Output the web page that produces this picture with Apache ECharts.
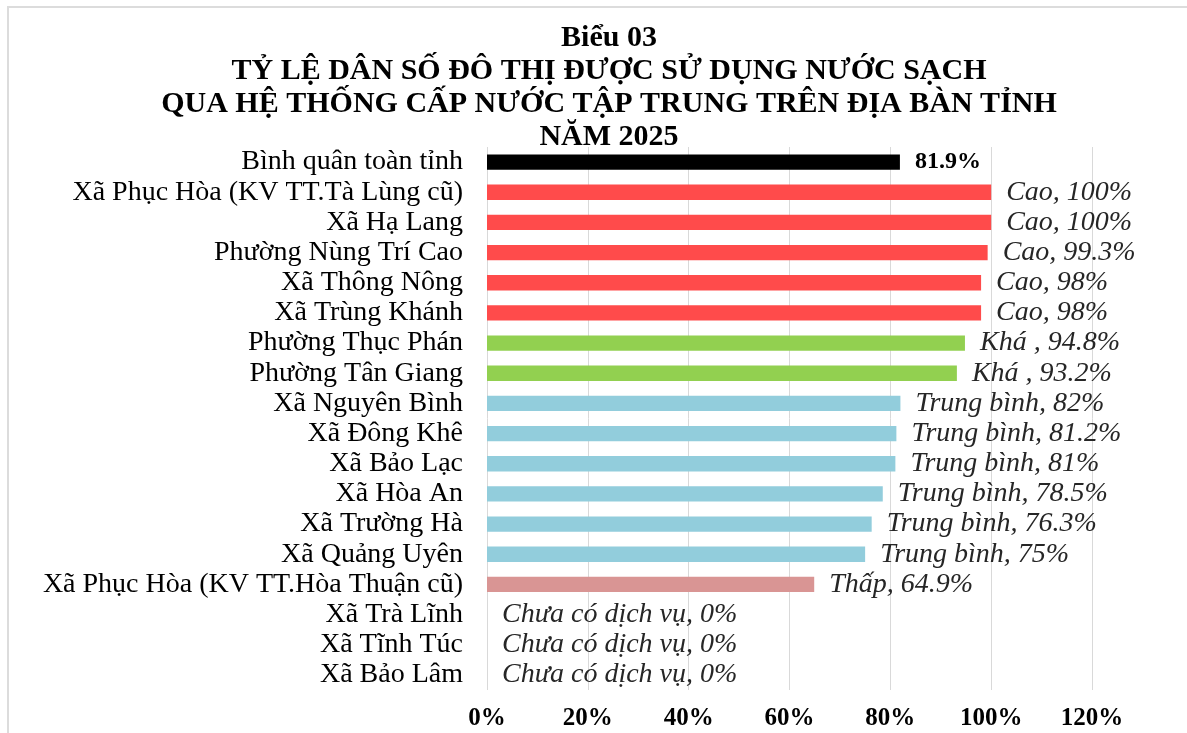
<!DOCTYPE html>
<html>
<head>
<meta charset="utf-8">
<script src="https://cdn.jsdelivr.net/npm/echarts@6/dist/echarts.min.js"></script>
<style>
  html, body { margin: 0; padding: 0; background: #fff; }
  #chart { width: 1187px; height: 733px; }
</style>
</head>
<body>
<div id="chart"></div>
<script>
// danh mục (trên xuống dưới)
const categories = [
  'Bình quân toàn tỉnh',
  'Xã Phục Hòa (KV TT.Tà Lùng cũ)',
  'Xã Hạ Lang',
  'Phường Nùng Trí Cao',
  'Xã Thông Nông',
  'Xã Trùng Khánh',
  'Phường Thục Phán',
  'Phường Tân Giang',
  'Xã Nguyên Bình',
  'Xã Đông Khê',
  'Xã Bảo Lạc',
  'Xã Hòa An',
  'Xã Trường Hà',
  'Xã Quảng Uyên',
  'Xã Phục Hòa (KV TT.Hòa Thuận cũ)',
  'Xã Trà Lĩnh',
  'Xã Tĩnh Túc',
  'Xã Bảo Lâm'
]
const values = [81.9, 100, 100, 99.3, 98, 98, 94.8, 93.2, 82, 81.2, 81, 78.5, 76.3, 75, 64.9, 0, 0, 0]
const levels = ['', 'Cao', 'Cao', 'Cao', 'Cao', 'Cao', 'Khá ', 'Khá ',
  'Trung bình', 'Trung bình', 'Trung bình', 'Trung bình', 'Trung bình', 'Trung bình',
  'Thấp', 'Chưa có dịch vụ', 'Chưa có dịch vụ', 'Chưa có dịch vụ']
const xTicks = [0, 20, 40, 60, 80, 100, 120]

const levelColors = {
  '': '#000000',
  'Cao': '#ff4b4b',
  'Khá ': '#92d050',
  'Trung bình': '#92cddc',
  'Thấp': '#d99594',
  'Chưa có dịch vụ': '#92cddc'
}

const serif = "'Liberation Serif', 'Times New Roman', serif"

const chart = echarts.init(document.getElementById('chart'))

chart.setOption({
  backgroundColor: '#fff',
  animation: false,
  title: {
    text: 'Biểu 03\nTỶ LỆ DÂN SỐ ĐÔ THỊ ĐƯỢC SỬ DỤNG NƯỚC SẠCH\nQUA HỆ THỐNG CẤP NƯỚC TẬP TRUNG TRÊN ĐỊA BÀN TỈNH\nNĂM 2025',
    left: 609,
    top: 22,
    textAlign: 'center',
    padding: 0,
    textStyle: {
      fontFamily: serif,
      fontWeight: 'bold',
      fontSize: 30,
      lineHeight: 33,
      color: '#000'
    }
  },
  graphic: [{
    type: 'rect',
    shape: { x: 8, y: 7, width: 1200, height: 760 },
    style: { fill: 'none', stroke: '#dcdcdc', lineWidth: 2 },
    silent: true
  }],
  grid: { left: 487, right: 95, top: 147, bottom: 43 },
  xAxis: {
    type: 'value',
    min: xTicks[0],
    max: xTicks[xTicks.length - 1],
    interval: 20,
    axisLine: { show: false },
    axisTick: { show: false },
    splitLine: { lineStyle: { color: '#d9d9d9', width: 1 } },
    axisLabel: {
      formatter: '{value}%',
      margin: 16,
      color: '#000',
      fontFamily: serif,
      fontWeight: 'bold',
      fontSize: 25
    }
  },
  yAxis: {
    type: 'category',
    inverse: true,
    data: categories,
    axisLine: { show: false },
    axisTick: { show: false },
    axisLabel: {
      interval: 0,
      hideOverlap: false,
      margin: 24,
      color: '#000',
      fontFamily: serif,
      fontSize: 28,
      lineHeight: 28
    }
  },
  series: [{
    type: 'bar',
    barWidth: '51%',
    labelLayout: { hideOverlap: false },
    data: values.map((v, i) => ({
      value: v,
      itemStyle: { color: levelColors[levels[i]] },
      label: levels[i] === '' ? { fontStyle: 'normal', fontWeight: 'bold', fontSize: 24, color: '#000' } : undefined
    })),
    label: {
      show: true,
      position: 'right',
      distance: 15,
      color: '#262626',
      fontFamily: serif,
      fontStyle: 'italic',
      fontSize: 28,
      formatter: p => {
        const lv = levels[p.dataIndex]
        return lv === '' ? p.value + '%' : lv + ', ' + p.value + '%'
      }
    }
  }]
})
</script>
</body>
</html>
